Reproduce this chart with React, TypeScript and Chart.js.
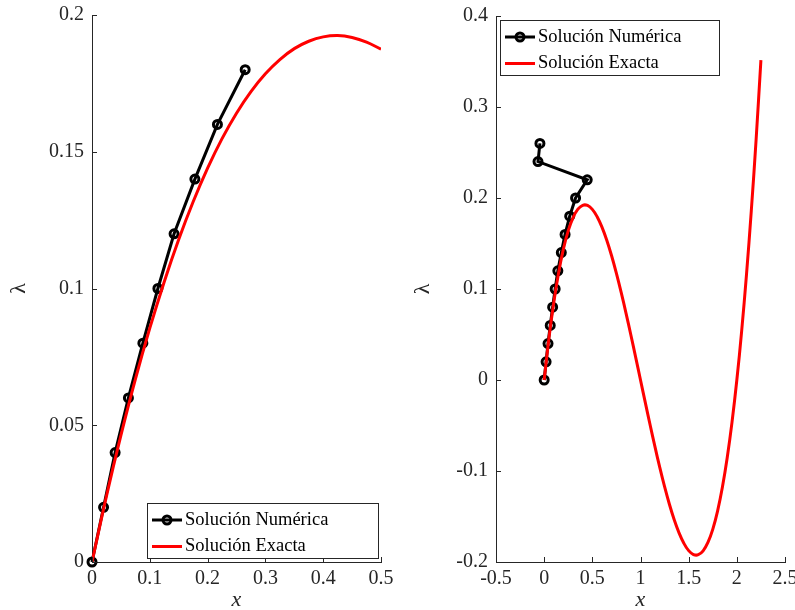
import React, { useEffect, useRef } from "react";
import { Chart, registerables } from "chart.js";
Chart.register(...registerables);

// Numeric solution (Solución Numérica)
const numericLambda = [0, 0.02, 0.04, 0.06, 0.08, 0.1, 0.12, 0.14, 0.16, 0.18, 0.2, 0.22, 0.24, 0.26];
const numericX = [0, 0.02, 0.04, 0.063, 0.088, 0.114, 0.142, 0.178, 0.217, 0.265, 0.326, 0.447, -0.064, -0.044];
const leftNumericCount = 10;

// Exact solution (Solución Exacta) - left panel
const exactXLeft = [0, 0.025, 0.05, 0.075, 0.1, 0.125, 0.15, 0.175, 0.2, 0.225, 0.25, 0.275, 0.3, 0.325, 0.35, 0.375, 0.4, 0.425, 0.45, 0.475, 0.5];
const exactLambdaLeft = [0, 0.0241, 0.0463, 0.0668, 0.0855, 0.1025, 0.1179, 0.1317, 0.144, 0.1548, 0.1641, 0.172, 0.1785, 0.1837, 0.1877, 0.1904, 0.192, 0.1925, 0.1918, 0.1901, 0.1875];

// Exact solution - right panel
const exactXRight = [0, 0.05, 0.1, 0.15, 0.2, 0.25, 0.3, 0.35, 0.4, 0.45, 0.5, 0.55, 0.6, 0.65, 0.7, 0.75, 0.8, 0.85, 0.9, 0.95, 1.0, 1.05, 1.1, 1.15, 1.2, 1.25, 1.3, 1.35, 1.4, 1.45, 1.5, 1.55, 1.6, 1.65, 1.7, 1.75, 1.8, 1.85, 1.9, 1.95, 2.0, 2.05, 2.1, 2.15, 2.2, 2.25];
const exactLambdaRight = [0, 0.0463, 0.0855, 0.1179, 0.144, 0.1641, 0.1785, 0.1877, 0.192, 0.1918, 0.1875, 0.1794, 0.168, 0.1536, 0.1365, 0.1172, 0.096, 0.0733, 0.0495, 0.0249, 0, -0.0249, -0.0495, -0.0733, -0.096, -0.1172, -0.1365, -0.1536, -0.168, -0.1794, -0.1875, -0.1918, -0.192, -0.1877, -0.1785, -0.1641, -0.144, -0.1179, -0.0855, -0.0463, 0, 0.0538, 0.1155, 0.1857, 0.264, 0.3516];

// Tick labels
const xTicksLeft = [0, 0.1, 0.2, 0.3, 0.4, 0.5];
const yTicksLeft = [0, 0.05, 0.1, 0.15, 0.2];
const xTicksRight = [-0.5, 0, 0.5, 1, 1.5, 2, 2.5];
const yTicksRight = [-0.2, -0.1, 0, 0.1, 0.2, 0.3, 0.4];

const legendLabels = ["Solución Numérica", "Solución Exacta"];

const AXIS = "#262626";
const FONT = "'Liberation Serif', 'DejaVu Serif', serif";

const fmt = (v: number) => String(Number(v.toFixed(4)));

function makeConfig(opts: {
  xMin: number; xMax: number; yMin: number; yMax: number;
  xTicks: number[]; yTicks: number[];
  numCount: number; exX: number[]; exY: number[];
  padTop: number; padRight: number; yWidth: number; xHeight: number;
  legendPos: "br" | "tl";
}) {
  const numericData = numericX.slice(0, opts.numCount).map((x, i) => ({ x, y: numericLambda[i] }));
  const exactData = opts.exX.map((x, i) => ({ x, y: opts.exY[i] }));

  const decor = {
    id: "decor",
    afterDraw(chart: any) {
      const { ctx, chartArea, scales } = chart;
      const xs = scales.x, ys = scales.y;
      ctx.save();
      // inward ticks
      ctx.strokeStyle = AXIS;
      ctx.lineWidth = 1;
      ctx.beginPath();
      xs.ticks.forEach((t: any) => {
        const px = Math.round(xs.getPixelForValue(t.value)) + 0.5;
        ctx.moveTo(px, chartArea.bottom);
        ctx.lineTo(px, chartArea.bottom - 5);
      });
      ys.ticks.forEach((t: any) => {
        const py = Math.round(ys.getPixelForValue(t.value)) + 0.5;
        ctx.moveTo(chartArea.left, py);
        ctx.lineTo(chartArea.left + 5, py);
      });
      ctx.stroke();

      // axis titles
      ctx.fillStyle = AXIS;
      ctx.font = `italic 22px ${FONT}`;
      ctx.textAlign = "center";
      ctx.textBaseline = "middle";
      ctx.fillText("x", (chartArea.left + chartArea.right) / 2, chartArea.bottom + 38);
      ctx.save();
      ctx.translate(chartArea.left - 73, (chartArea.top + chartArea.bottom) / 2);
      ctx.rotate(-Math.PI / 2);
      ctx.font = `22px ${FONT}`;
      ctx.fillText("λ", 0, 0);
      ctx.restore();

      // legend
      const w = opts.legendPos === "br" ? 231 : 219;
      const h = 55;
      let bx: number, by: number;
      if (opts.legendPos === "br") {
        bx = chartArea.right - 3.5 - w;
        by = chartArea.bottom - 4.5 - h;
      } else {
        bx = chartArea.left + 4;
        by = chartArea.top + 3.5;
      }
      bx = Math.round(bx) + 0.5;
      by = Math.round(by) + 0.5;
      ctx.fillStyle = "#ffffff";
      ctx.fillRect(bx, by, w, h);
      ctx.strokeStyle = AXIS;
      ctx.lineWidth = 1;
      ctx.strokeRect(bx, by, w, h);
      const rows = [by + 16.5, by + 43];
      const lx0 = bx + 4.5, lx1 = bx + 34.5;
      ctx.lineWidth = 3;
      ctx.strokeStyle = "#000000";
      ctx.beginPath();
      ctx.moveTo(lx0, rows[0]);
      ctx.lineTo(lx1, rows[0]);
      ctx.stroke();
      ctx.lineWidth = 3;
      ctx.beginPath();
      ctx.arc((lx0 + lx1) / 2, rows[0], 4, 0, Math.PI * 2);
      ctx.stroke();
      ctx.strokeStyle = "#ff0000";
      ctx.lineWidth = 3;
      ctx.beginPath();
      ctx.moveTo(lx0, rows[1]);
      ctx.lineTo(lx1, rows[1]);
      ctx.stroke();
      ctx.fillStyle = "#000000";
      ctx.font = `18.5px ${FONT}`;
      ctx.textAlign = "left";
      ctx.textBaseline = "middle";
      ctx.fillText(legendLabels[0], lx1 + 3, rows[0]);
      ctx.fillText(legendLabels[1], lx1 + 3, rows[1]);
      ctx.restore();
    },
  };

  const tickFont = { family: FONT, size: 20 };

  return {
    type: "scatter" as const,
    data: {
      datasets: [
        {
          label: legendLabels[0],
          data: numericData,
          showLine: true,
          borderColor: "#000000",
          borderWidth: 3,
          pointRadius: 4,
          pointBorderWidth: 3,
          pointBorderColor: "#000000",
          pointBackgroundColor: "rgba(0,0,0,0)",
          tension: 0,
          order: 1,
          clip: false,
        },
        {
          label: legendLabels[1],
          data: exactData,
          showLine: true,
          borderColor: "#ff0000",
          borderWidth: 3,
          pointRadius: 0,
          tension: 0.4,
          order: 0,
        },
      ],
    },
    options: {
      responsive: false,
      animation: false as const,
      devicePixelRatio: 1,
      layout: { padding: { top: opts.padTop, right: opts.padRight, left: 0, bottom: 0 } },
      plugins: { legend: { display: false }, tooltip: { enabled: false } },
      scales: {
        x: {
          type: "linear" as const,
          min: opts.xMin,
          max: opts.xMax,
          afterBuildTicks: (s: any) => { s.ticks = opts.xTicks.map((v) => ({ value: v })); },
          afterFit: (s: any) => { s.height = opts.xHeight; s.paddingLeft = 0; s.paddingRight = 0; },
          ticks: { callback: (v: any) => fmt(Number(v)), font: tickFont, color: AXIS, padding: 5, maxRotation: 0, autoSkip: false },
          grid: { display: true, drawOnChartArea: false, drawTicks: false },
          border: { display: true, color: AXIS, width: 1 },
        },
        y: {
          type: "linear" as const,
          min: opts.yMin,
          max: opts.yMax,
          afterBuildTicks: (s: any) => { s.ticks = opts.yTicks.map((v) => ({ value: v })); },
          afterFit: (s: any) => { s.width = opts.yWidth; s.paddingTop = 0; s.paddingBottom = 0; },
          ticks: { callback: (v: any) => fmt(Number(v)), font: tickFont, color: AXIS, padding: 8, autoSkip: false },
          grid: { display: true, drawOnChartArea: false, drawTicks: false },
          border: { display: true, color: AXIS, width: 1 },
        },
      },
    },
    plugins: [decor],
  };
}

function Panel(props: { left: number; width: number; config: any }) {
  const ref = useRef<HTMLCanvasElement | null>(null);
  useEffect(() => {
    if (!ref.current) return;
    const chart = new Chart(ref.current, props.config);
    return () => chart.destroy();
  }, []);
  return (
    <canvas
      ref={ref}
      width={props.width}
      height={610}
      style={{ position: "absolute", left: props.left, top: 0, width: props.width, height: 610 }}
    />
  );
}

export default function App() {
  const leftCfg = makeConfig({
    xMin: 0, xMax: 0.5, yMin: 0, yMax: 0.2,
    xTicks: xTicksLeft, yTicks: yTicksLeft,
    numCount: leftNumericCount, exX: exactXLeft, exY: exactLambdaLeft,
    padTop: 15, padRight: 16, yWidth: 92, xHeight: 48, legendPos: "br",
  });
  const rightCfg = makeConfig({
    xMin: -0.5, xMax: 2.5, yMin: -0.2, yMax: 0.4,
    xTicks: xTicksRight, yTicks: yTicksRight,
    numCount: numericX.length, exX: exactXRight, exY: exactLambdaRight,
    padTop: 16, padRight: 10, yWidth: 96, xHeight: 48, legendPos: "tl",
  });
  return (
    <div style={{ position: "fixed", left: 0, top: 0, width: 795, height: 610, background: "#ffffff" }}>
      <Panel left={0} width={397} config={leftCfg} />
      <Panel left={400} width={395} config={rightCfg} />
    </div>
  );
}
